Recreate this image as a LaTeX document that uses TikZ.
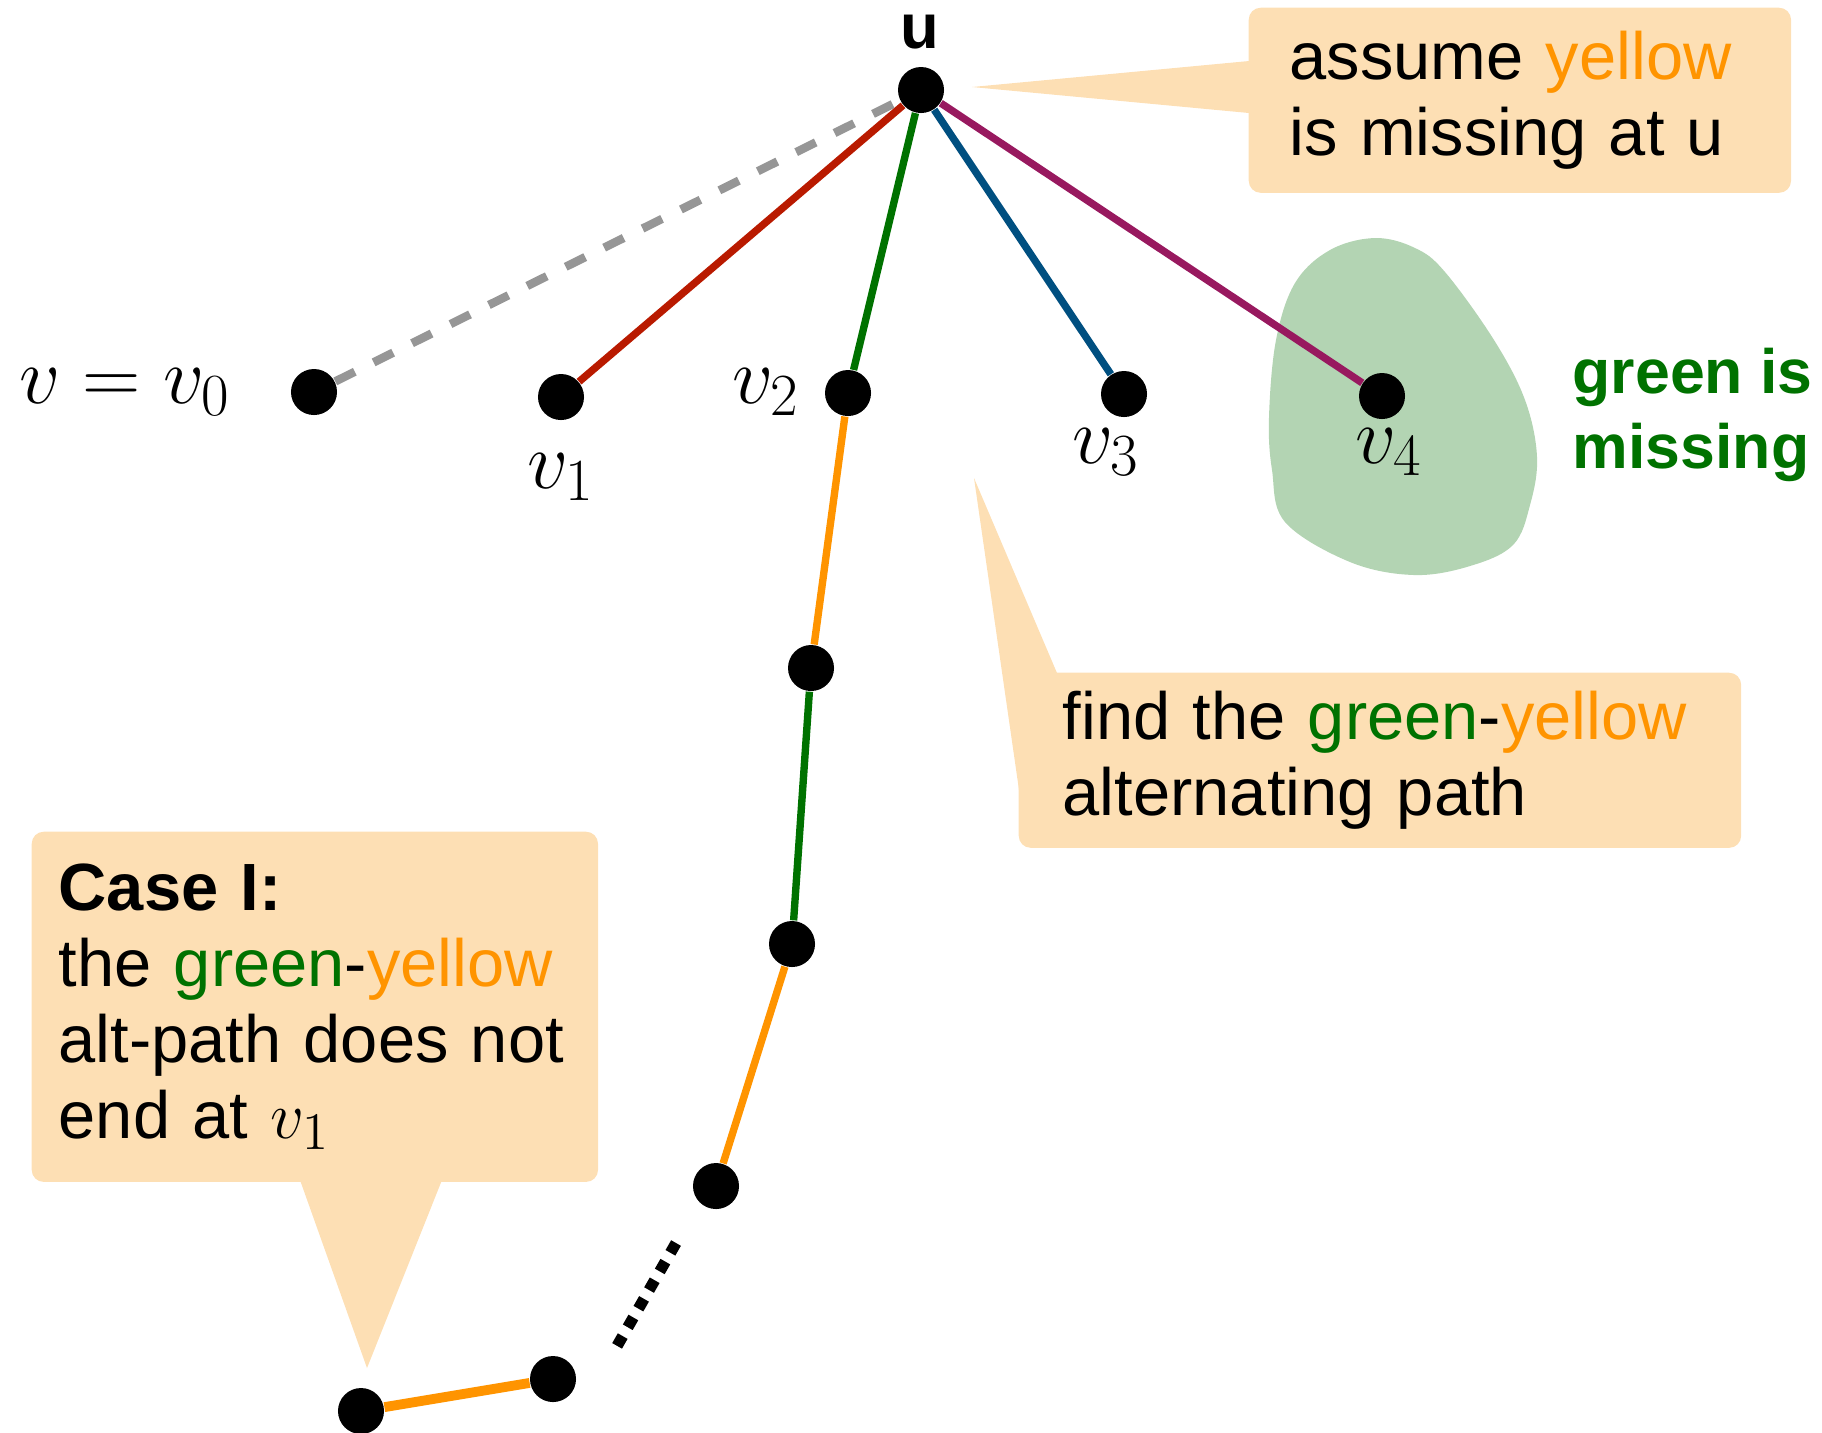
\RequirePackage{fix-cm}
\documentclass[tikz,border=0pt]{standalone}
\usepackage{xcolor}
\usepackage{fontspec}
\newfontfamily\helv{Liberation Sans}
\usepackage{tikz}

\DeclareMathSizes{23}{23}{17}{13}
\DeclareMathSizes{19}{19}{15}{11}

\definecolor{peach}{RGB}{253,223,180}
\definecolor{blobgreen}{RGB}{179,212,179}
\definecolor{cgreen}{RGB}{0,114,0}
\definecolor{cyellow}{RGB}{255,148,0}
\definecolor{cred}{RGB}{185,26,0}
\definecolor{cblue}{RGB}{0,79,128}
\definecolor{cpurple}{RGB}{152,25,95}
\definecolor{cgray}{RGB}{150,150,150}

\newcommand{\gr}[1]{\textcolor{cgreen}{#1}}
\newcommand{\yl}[1]{\textcolor{cyellow}{#1}}

\begin{document}
\begin{tikzpicture}[x=0.01cm, y=-0.01cm,
    vertex/.style={circle, fill=black, inner sep=0pt, minimum size=0.46cm},
    edge/.style={line width=2.1pt},
    callout/.style={fill=peach, rounded corners=0.12cm, anchor=north west, inner ysep=0pt,
        align=left, font=\helv\fontsize{19}{21.6}\selectfont},
    vlabel/.style={inner sep=0pt, anchor=base, font=\fontsize{23}{27}\selectfont}]
\useasboundingbox (0,0) rectangle (1822,1432);

% region where green is missing
\fill[blobgreen] plot[smooth cycle, tension=0.6] coordinates {
    (1285,522) (1272,470) (1269,417) (1276,340) (1295,283) (1330,250) (1375,238)
    (1415,248) (1445,272) (1494,340) (1525,400) (1537,457) (1530,505) (1513,545)
    (1470,566) (1414,575) (1350,562)};

% callouts
\node[callout, minimum width=5.42cm, minimum height=1.85cm, inner xsep=0.41cm,
    text width=4.60cm] (assume) at (1248,7) {assume \yl{yellow}\\is missing at u};
\coordinate (assumetip) at (972,87);
\fill[peach] (1249,61) -- (assumetip) -- (1249,113) -- cycle;

\node[callout, minimum width=7.22cm, minimum height=1.75cm, inner xsep=0.44cm,
    text width=6.34cm] (find) at (1018,672) {find the \gr{green}-\yl{yellow}\\alternating path};
\coordinate (findtip) at (974,478);
\fill[peach] (1057,673) -- (findtip) -- (1019,790) -- cycle;

\node[callout, minimum width=5.66cm, minimum height=3.50cm, inner xsep=0.27cm,
    text width=5.12cm] (caseI) at (31,831) {{\bfseries Case I:}\\the \gr{green}-\yl{yellow}\\alt-path does not\\end at $v_1$};
\coordinate (caseItip) at (367,1368);
\fill[peach] (300,1180) -- (caseItip) -- (442,1180) -- cycle;

% vertices
\node[vertex] (u) at (921,90) {};
\node[vertex] (v0) at (314,392) {};
\node[vertex] (v1) at (561,397) {};
\node[vertex] (v2) at (848,393) {};
\node[vertex] (v3) at (1124,394) {};
\node[vertex] (v4) at (1382,396) {};
\node[vertex] (p1) at (811,668) {};
\node[vertex] (p2) at (792,944) {};
\node[vertex] (p3) at (716,1186) {};
\node[vertex] (p4) at (553,1379) {};
\node[vertex] (p5) at (361,1411) {};

% edges at u
\draw[edge, cgray, line width=2.4pt, dash pattern=on 6.2pt off 6pt] (v0) -- (u);
\draw[edge, cred] (u) -- (v1);
\draw[edge, cgreen] (u) -- (v2);
\draw[edge, cblue] (u) -- (v3);
\draw[edge, cpurple] (u) -- (v4);

% the alternating path
\draw[edge, cyellow] (v2) -- (p1);
\draw[edge, cgreen] (p1) -- (p2);
\draw[edge, cyellow] (p2) -- (p3);
\coordinate (dotsA) at (676,1243);
\coordinate (dotsB) at (617,1346);
\draw[line width=3.2pt, dash pattern=on 3.2pt off 2.9pt] (dotsA) -- (dotsB);
\draw[edge, cyellow, line width=2.8pt] (p4) -- (p5);

% labels
\node[inner sep=0pt, anchor=base, font=\helv\bfseries\fontsize{18}{20}\selectfont] (ulabel) at (920,48) {u};
\node[vlabel] (lv0) at (125,403) {$v=v_0$};
\node[vlabel] (lv1) at (561,488) {$v_1$};
\node[vlabel] (lv2) at (766,403) {$v_2$};
\node[vlabel] (lv3) at (1106,463) {$v_3$};
\node[vlabel] (lv4) at (1389,463) {$v_4$};
\node[inner sep=0pt, anchor=base west, align=left, text=cgreen,
    font=\helv\bfseries\fontsize{17.8}{21.3}\selectfont] (missing) at (1572,468) {green is\\missing};
\end{tikzpicture}
\end{document}
